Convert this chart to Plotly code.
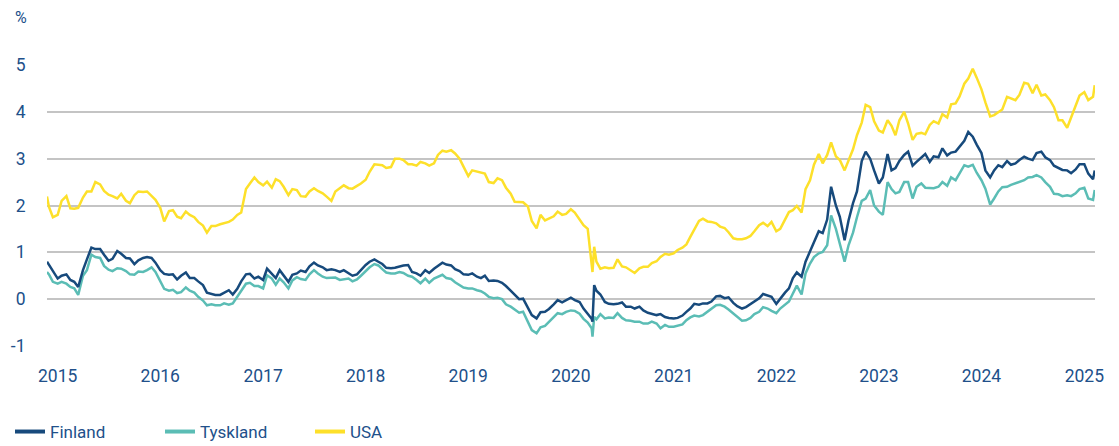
import pandas as pd
import plotly.graph_objects as go

# 10-year government bond yields, %. Values read at each month start
# (Dec 2014 - Feb 2025) and mid month (15th, Dec 2014 - Jan 2025)
month_starts = pd.date_range("2014-12-01", "2025-02-01", freq="MS")
mid_months = pd.date_range("2014-12-01", "2025-01-01", freq="MS") + pd.Timedelta(days=14)

finland_start = [
    0.73, 0.44, 0.53, 0.37, 0.62, 1.10, 1.07, 0.82, 1.03, 0.88, 0.75, 0.88,
    0.88, 0.62, 0.52, 0.42, 0.57, 0.45, 0.30, 0.11, 0.09, 0.19, 0.22, 0.53,
    0.44, 0.41, 0.55, 0.62, 0.37, 0.55, 0.58, 0.78, 0.68, 0.64, 0.58, 0.55,
    0.53, 0.73, 0.85, 0.75, 0.66, 0.70, 0.73, 0.55, 0.62, 0.65, 0.78, 0.72,
    0.60, 0.52, 0.48, 0.50, 0.40, 0.35, 0.18, 0.00, -0.18, -0.41, -0.27, -0.11,
    -0.07, 0.03, -0.06, -0.32, 0.18, -0.06, -0.11, -0.07, -0.16, -0.16, -0.29, -0.34,
    -0.38, -0.41, -0.35, -0.20, -0.12, -0.09, 0.06, 0.02, -0.08, -0.20, -0.11, 0.02,
    0.08, -0.10, 0.14, 0.45, 0.48, 1.01, 1.45, 1.70, 2.00, 1.26, 2.05, 2.95,
    3.00, 2.47, 3.10, 2.80, 3.08, 2.85, 3.02, 2.93, 3.03, 3.07, 3.15, 3.38,
    3.47, 3.12, 2.60, 2.86, 2.95, 2.90, 3.04, 2.97, 3.15, 2.97, 2.81, 2.75,
    2.77, 2.88, 2.56,
]
finland_mid = [
    0.60, 0.50, 0.41, 0.26, 0.85, 1.07, 0.95, 0.86, 0.97, 0.87, 0.83, 0.90,
    0.78, 0.54, 0.53, 0.50, 0.45, 0.38, 0.14, 0.09, 0.13, 0.10, 0.38, 0.54,
    0.48, 0.65, 0.45, 0.50, 0.52, 0.61, 0.70, 0.72, 0.62, 0.62, 0.62, 0.50,
    0.63, 0.80, 0.80, 0.67, 0.67, 0.72, 0.58, 0.50, 0.56, 0.72, 0.74, 0.64,
    0.53, 0.55, 0.45, 0.39, 0.39, 0.28, 0.09, 0.01, -0.34, -0.28, -0.21, -0.02,
    -0.02, -0.02, -0.20, -0.42, 0.10, -0.10, -0.10, -0.16, -0.20, -0.24, -0.32, -0.32,
    -0.40, -0.40, -0.27, -0.10, -0.09, -0.05, 0.07, 0.04, -0.15, -0.17, -0.05, 0.11,
    0.05, 0.02, 0.23, 0.57, 0.80, 1.23, 1.41, 2.40, 1.76, 1.68, 2.30, 3.15,
    2.75, 2.60, 2.75, 2.95, 3.15, 2.93, 3.10, 3.05, 3.22, 3.13, 3.25, 3.57,
    3.30, 2.75, 2.75, 2.82, 2.87, 2.97, 3.00, 3.12, 3.03, 2.85, 2.76, 2.69,
    2.88, 2.68,
]

tyskland_start = [
    0.53, 0.33, 0.33, 0.23, 0.50, 0.95, 0.88, 0.63, 0.66, 0.60, 0.52, 0.58,
    0.68, 0.40, 0.18, 0.13, 0.25, 0.14, -0.03, -0.11, -0.13, -0.12, 0.05, 0.33,
    0.28, 0.23, 0.44, 0.44, 0.23, 0.47, 0.41, 0.62, 0.48, 0.45, 0.41, 0.44,
    0.42, 0.60, 0.75, 0.64, 0.55, 0.58, 0.50, 0.41, 0.44, 0.44, 0.52, 0.43,
    0.30, 0.23, 0.19, 0.12, 0.02, 0.00, -0.16, -0.29, -0.47, -0.73, -0.57, -0.38,
    -0.32, -0.24, -0.31, -0.50, -0.43, -0.41, -0.40, -0.40, -0.46, -0.48, -0.52, -0.52,
    -0.55, -0.59, -0.54, -0.39, -0.37, -0.27, -0.13, -0.16, -0.30, -0.46, -0.40, -0.27,
    -0.20, -0.30, -0.11, 0.12, 0.10, 0.76, 0.98, 1.15, 1.50, 0.80, 1.42, 2.10,
    2.33, 1.87, 2.50, 2.26, 2.50, 2.15, 2.47, 2.38, 2.40, 2.42, 2.54, 2.86,
    2.87, 2.54, 2.02, 2.30, 2.40, 2.47, 2.54, 2.61, 2.60, 2.40, 2.24, 2.22,
    2.26, 2.38, 2.12,
]
tyskland_mid = [
    0.37, 0.37, 0.26, 0.09, 0.62, 0.90, 0.71, 0.60, 0.65, 0.53, 0.59, 0.62,
    0.58, 0.22, 0.20, 0.15, 0.18, 0.05, -0.13, -0.13, -0.09, -0.09, 0.19, 0.35,
    0.28, 0.51, 0.31, 0.36, 0.40, 0.43, 0.53, 0.55, 0.45, 0.46, 0.42, 0.38,
    0.50, 0.68, 0.72, 0.57, 0.55, 0.56, 0.48, 0.34, 0.35, 0.47, 0.45, 0.36,
    0.25, 0.23, 0.17, 0.05, 0.03, -0.11, -0.23, -0.27, -0.66, -0.60, -0.48, -0.30,
    -0.27, -0.25, -0.42, -0.62, -0.32, -0.39, -0.30, -0.45, -0.48, -0.52, -0.48, -0.62,
    -0.59, -0.57, -0.45, -0.35, -0.34, -0.22, -0.12, -0.22, -0.37, -0.45, -0.32, -0.17,
    -0.25, -0.20, -0.05, 0.29, 0.55, 0.90, 1.01, 1.79, 1.20, 1.15, 1.75, 2.15,
    2.00, 1.80, 2.35, 2.29, 2.50, 2.40, 2.38, 2.37, 2.50, 2.60, 2.70, 2.83,
    2.70, 2.36, 2.15, 2.39, 2.44, 2.51, 2.60, 2.65, 2.50, 2.25, 2.20, 2.20,
    2.35, 2.15,
]

usa_start = [
    1.97, 1.80, 2.20, 1.93, 2.17, 2.30, 2.45, 2.23, 2.15, 2.10, 2.22, 2.29,
    2.20, 1.95, 1.88, 1.76, 1.87, 1.75, 1.57, 1.56, 1.60, 1.65, 1.80, 2.35,
    2.60, 2.43, 2.38, 2.52, 2.22, 2.33, 2.19, 2.37, 2.26, 2.10, 2.38, 2.37,
    2.42, 2.55, 2.88, 2.86, 2.82, 3.00, 2.88, 2.85, 2.90, 2.90, 3.17, 3.18,
    3.00, 2.63, 2.72, 2.68, 2.48, 2.54, 2.25, 2.08, 1.98, 1.51, 1.68, 1.77,
    1.80, 1.92, 1.70, 1.50, 0.80, 0.68, 0.67, 0.70, 0.62, 0.66, 0.69, 0.81,
    0.97, 0.98, 1.10, 1.33, 1.67, 1.66, 1.62, 1.52, 1.30, 1.28, 1.35, 1.58,
    1.56, 1.45, 1.70, 1.90, 1.85, 2.54, 3.10, 3.08, 3.05, 2.75, 3.20, 3.77,
    4.10, 3.60, 3.82, 3.50, 4.00, 3.40, 3.55, 3.72, 3.75, 3.88, 4.18, 4.60,
    4.92, 4.48, 3.90, 4.00, 4.32, 4.25, 4.62, 4.40, 4.35, 4.25, 3.82, 3.66,
    4.15, 4.42, 4.32,
]
usa_mid = [
    1.75, 2.10, 1.94, 1.95, 2.30, 2.50, 2.31, 2.20, 2.25, 2.05, 2.30, 2.30,
    2.12, 1.66, 1.90, 1.73, 1.80, 1.65, 1.42, 1.56, 1.63, 1.70, 1.85, 2.47,
    2.50, 2.51, 2.56, 2.40, 2.35, 2.20, 2.30, 2.31, 2.19, 2.30, 2.43, 2.36,
    2.47, 2.72, 2.87, 2.80, 3.00, 2.97, 2.88, 2.93, 2.85, 3.08, 3.15, 3.11,
    2.83, 2.75, 2.69, 2.50, 2.58, 2.38, 2.08, 2.07, 1.67, 1.80, 1.72, 1.87,
    1.82, 1.85, 1.58, 0.65, 0.65, 0.66, 0.85, 0.68, 0.56, 0.69, 0.77, 0.90,
    0.95, 1.05, 1.17, 1.50, 1.72, 1.65, 1.55, 1.43, 1.28, 1.30, 1.45, 1.63,
    1.65, 1.50, 1.86, 1.99, 2.35, 2.87, 2.90, 3.35, 2.97, 2.95, 3.50, 4.15,
    3.80, 3.56, 3.70, 3.82, 3.75, 3.53, 3.52, 3.80, 3.95, 4.16, 4.33, 4.71,
    4.73, 4.20, 3.93, 4.05, 4.28, 4.36, 4.60, 4.58, 4.37, 4.10, 3.82, 3.88,
    4.35, 4.25,
]

# single days where the chart turns sharply (first/last day, March 2020)
extra_dates = pd.to_datetime(["2014-11-24", "2020-03-18", "2020-03-24", "2025-02-07"])
extra_finland = [0.80, -0.48, 0.30, 2.75]
extra_tyskland = [0.58, -0.80, -0.38, 2.33]
extra_usa = [2.19, 0.58, 1.12, 4.57]

df = pd.concat([
    pd.DataFrame({"date": month_starts, "Finland": finland_start,
                  "Tyskland": tyskland_start, "USA": usa_start}),
    pd.DataFrame({"date": mid_months, "Finland": finland_mid,
                  "Tyskland": tyskland_mid, "USA": usa_mid}),
    pd.DataFrame({"date": extra_dates, "Finland": extra_finland,
                  "Tyskland": extra_tyskland, "USA": extra_usa}),
]).sort_values("date")

colors = {"Finland": "#174a7c", "Tyskland": "#5bbdb5", "USA": "#fde02a"}
text_color = "#21508a"
font = "Roboto, Arial, sans-serif"

fig = go.Figure()
for name in ["USA", "Tyskland", "Finland"]:
    fig.add_trace(go.Scatter(x=df["date"], y=df[name], mode="lines", name=name,
                             line=dict(color=colors[name], width=2.5), showlegend=False))
# legend entries drawn with thicker sample lines
for name in ["Finland", "Tyskland", "USA"]:
    fig.add_trace(go.Scatter(x=[None], y=[None], mode="lines", name=name,
                             line=dict(color=colors[name], width=4)))

# the page body keeps its 8px default margin, so the figure is 8px smaller
fig.update_layout(
    width=1111, height=438,
    margin=dict(l=39, r=24, t=57, b=100),
    paper_bgcolor="white", plot_bgcolor="white",
    font=dict(family=font, size=17.5, color=text_color),
    showlegend=True,
    legend=dict(orientation="h", xref="container", yref="container",
                x=0.0018, xanchor="left", y=0.032, yanchor="middle",
                entrywidth=105, entrywidthmode="pixels",
                font=dict(size=17, color=text_color)),
    annotations=[dict(text="%", xref="paper", yref="paper", x=-26 / 1048, y=1 + 47 / 281,
                      showarrow=False, xanchor="center", yanchor="middle",
                      font=dict(size=16, color=text_color))],
)
fig.update_xaxes(
    type="date", range=["2014-11-24", "2025-02-08"],
    tick0="2015-01-01", dtick="M12", tickformat="%Y",
    showgrid=False, zeroline=False, showline=False,
    ticks="outside", ticklen=14, tickcolor="rgba(0,0,0,0)", automargin=False,
)
fig.update_yaxes(
    range=[-1, 5], tickvals=[-1, 0, 1, 2, 3, 4, 5],
    ticktext=["-1", "0", "1", "2", "3", "4", "5"],
    showgrid=True, gridcolor="#c4c4c4", gridwidth=1.5, zeroline=False, showline=False,
    ticks="outside", ticklen=17, tickcolor="rgba(0,0,0,0)", automargin=False,
)

fig.write_html("out.html")
